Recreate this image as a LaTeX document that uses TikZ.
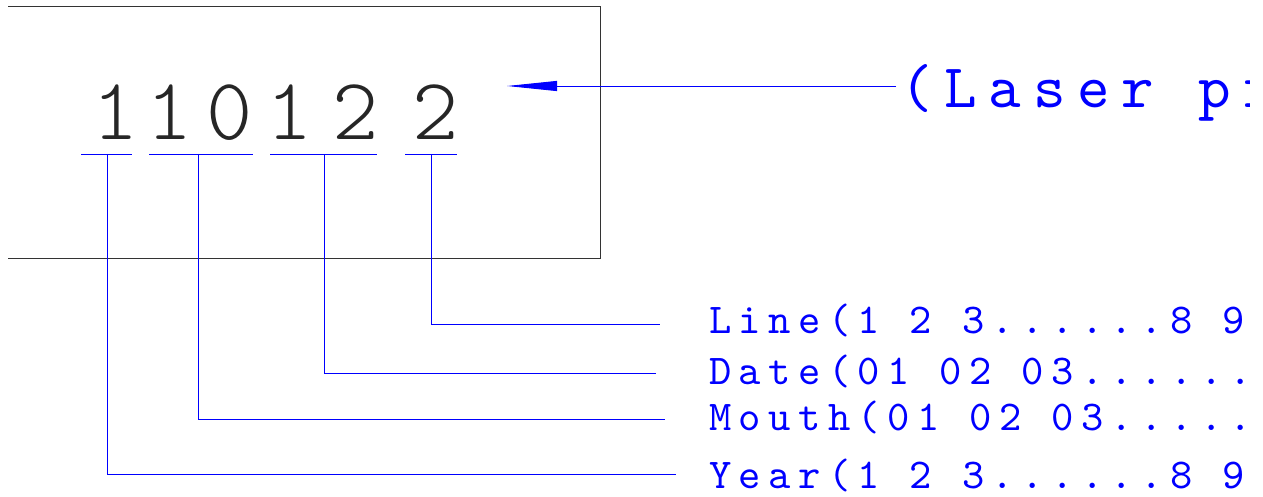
\documentclass[tikz,border=0pt]{standalone}
\usepackage{fontspec}
\usepackage{tikz}
\usetikzlibrary{arrows.meta}
\newfontfamily\markfont{lmmonolt10-regular.otf}
\newfontfamily\cadfont{lmmono10-regular.otf}[LetterSpace=17.5]
\newfontfamily\titlefont{lmmono10-regular.otf}[LetterSpace=19]
\tikzset{
  every node/.style={
    inner sep=0pt
  },
  mark digit/.style={
    font=\markfont\fontsize{88}{88}\selectfont,
    text=black!85,
    anchor=base
  },
  code label/.style={
    font=\cadfont\fontsize{42.5}{42.5}\selectfont,
    text=blue,
    anchor=base west
  },
  title label/.style={
    code label,
    font=\titlefont\fontsize{62}{62}\selectfont
  },
  frame line/.style={
    draw=black!80,
    line width=0.9pt
  },
  lead line/.style={
    draw=blue,
    line width=0.9pt
  }
}
\begin{document}
\begin{tikzpicture}[x=1pt,y=-1pt]
  \useasboundingbox (0,0) rectangle (1263,497);
  \begin{scope}
    \clip (0,0) rectangle (1249,497);
    % plate outline
    \draw[frame line] (8,6) -| (600,258) -- (8,258);
    % marking
    \foreach \d/\x [count=\i] in {1/116,1/169.5,0/229.5,1/289.5,2/356,2/436}
      \node[mark digit] (d\i) at (\x,140) {\d};
    % groups
    \foreach \a/\b/\c [count=\i] in {81/132/107,149/253/198,270/377/324,405/457/431} {
      \draw[lead line] (\a,154) -- (\b,154);
      \coordinate (u\i) at (\c,154);
    }
    % labels
    \node[title label] (laser) at (900,108) {(Laser pr};
    \node[code label] (line) at (709,333) {Line(1 2 3......8 9};
    \node[code label] (date) at (709,384) {Date(01 02 03......};
    \node[code label] (mouth) at (709,430) {Mouth(01 02 03.....};
    \node[code label] (year) at (709,488) {Year(1 2 3......8 9};
    \coordinate (eline) at (660,324);
    \coordinate (edate) at (656,373);
    \coordinate (emouth) at (665,419);
    \coordinate (eyear) at (676,474);
    \coordinate (lstart) at (896,86);
    \coordinate (tip) at (507,86);
    \draw[lead line] (u4) |- (eline);
    \draw[lead line] (u3) |- (edate);
    \draw[lead line] (u2) |- (emouth);
    \draw[lead line] (u1) |- (eyear);
    \draw[lead line, -{Triangle[length=50pt,width=10pt]}, blue] (lstart) -- (tip);
  \end{scope}
\end{tikzpicture}
\end{document}
